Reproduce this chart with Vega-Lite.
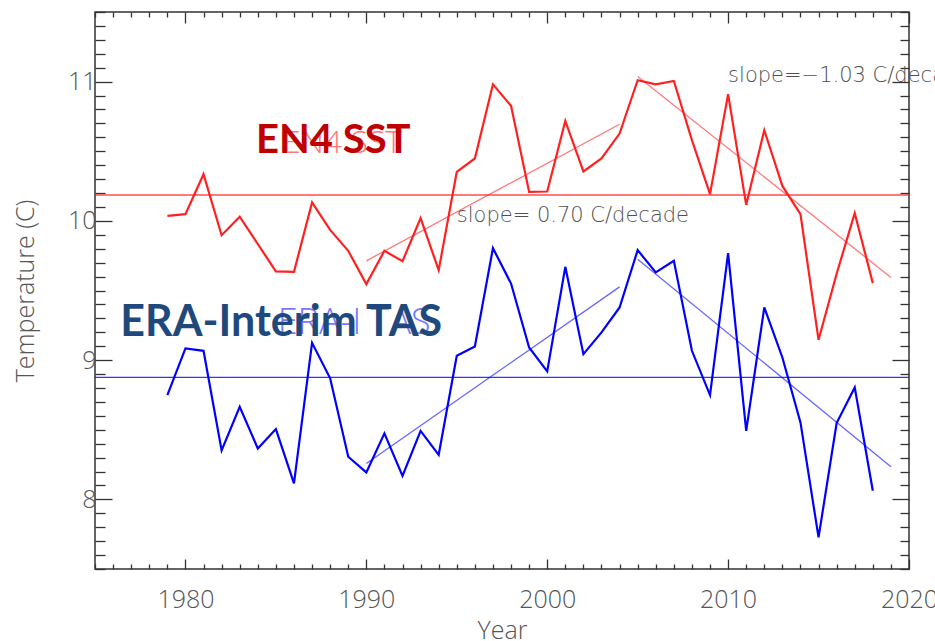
{
  "$schema": "https://vega.github.io/schema/vega-lite/v6.json",
  "width": 814,
  "height": 557,
  "autosize": {"type": "none"},
  "padding": {"left": 95, "top": 12, "right": 26, "bottom": 72},
  "background": "white",
  "config": {
    "view": {"stroke": "#333333", "strokeWidth": 1.5},
    "axis": {"domain": false, "grid": false, "labelOverlap": false, "labelFlush": false, "labelBound": false}
  },
  "datasets": {
    "series": [
      {"dataset": "EN4 SST", "year": 1979, "value": 10.036},
      {"dataset": "EN4 SST", "year": 1980, "value": 10.048},
      {"dataset": "EN4 SST", "year": 1981, "value": 10.335},
      {"dataset": "EN4 SST", "year": 1982, "value": 9.897},
      {"dataset": "EN4 SST", "year": 1983, "value": 10.03},
      {"dataset": "EN4 SST", "year": 1984, "value": 9.834},
      {"dataset": "EN4 SST", "year": 1985, "value": 9.637},
      {"dataset": "EN4 SST", "year": 1986, "value": 9.634},
      {"dataset": "EN4 SST", "year": 1987, "value": 10.132},
      {"dataset": "EN4 SST", "year": 1988, "value": 9.935},
      {"dataset": "EN4 SST", "year": 1989, "value": 9.785},
      {"dataset": "EN4 SST", "year": 1990, "value": 9.546},
      {"dataset": "EN4 SST", "year": 1991, "value": 9.785},
      {"dataset": "EN4 SST", "year": 1992, "value": 9.71},
      {"dataset": "EN4 SST", "year": 1993, "value": 10.02},
      {"dataset": "EN4 SST", "year": 1994, "value": 9.646},
      {"dataset": "EN4 SST", "year": 1995, "value": 10.352},
      {"dataset": "EN4 SST", "year": 1996, "value": 10.448},
      {"dataset": "EN4 SST", "year": 1997, "value": 10.981},
      {"dataset": "EN4 SST", "year": 1998, "value": 10.826},
      {"dataset": "EN4 SST", "year": 1999, "value": 10.208},
      {"dataset": "EN4 SST", "year": 2000, "value": 10.211},
      {"dataset": "EN4 SST", "year": 2001, "value": 10.718},
      {"dataset": "EN4 SST", "year": 2002, "value": 10.355},
      {"dataset": "EN4 SST", "year": 2003, "value": 10.448},
      {"dataset": "EN4 SST", "year": 2004, "value": 10.627},
      {"dataset": "EN4 SST", "year": 2005, "value": 11.01},
      {"dataset": "EN4 SST", "year": 2006, "value": 10.981},
      {"dataset": "EN4 SST", "year": 2007, "value": 11.005},
      {"dataset": "EN4 SST", "year": 2008, "value": 10.58},
      {"dataset": "EN4 SST", "year": 2009, "value": 10.192},
      {"dataset": "EN4 SST", "year": 2010, "value": 10.91},
      {"dataset": "EN4 SST", "year": 2011, "value": 10.115},
      {"dataset": "EN4 SST", "year": 2012, "value": 10.651},
      {"dataset": "EN4 SST", "year": 2013, "value": 10.251},
      {"dataset": "EN4 SST", "year": 2014, "value": 10.048},
      {"dataset": "EN4 SST", "year": 2015, "value": 9.146},
      {"dataset": "EN4 SST", "year": 2016, "value": 9.62},
      {"dataset": "EN4 SST", "year": 2017, "value": 10.055},
      {"dataset": "EN4 SST", "year": 2018, "value": 9.553},
      {"dataset": "ERA-Interim TAS", "year": 1979, "value": 8.749},
      {"dataset": "ERA-Interim TAS", "year": 1980, "value": 9.084},
      {"dataset": "ERA-Interim TAS", "year": 1981, "value": 9.067},
      {"dataset": "ERA-Interim TAS", "year": 1982, "value": 8.352},
      {"dataset": "ERA-Interim TAS", "year": 1983, "value": 8.665},
      {"dataset": "ERA-Interim TAS", "year": 1984, "value": 8.366},
      {"dataset": "ERA-Interim TAS", "year": 1985, "value": 8.505},
      {"dataset": "ERA-Interim TAS", "year": 1986, "value": 8.115},
      {"dataset": "ERA-Interim TAS", "year": 1987, "value": 9.124},
      {"dataset": "ERA-Interim TAS", "year": 1988, "value": 8.869},
      {"dataset": "ERA-Interim TAS", "year": 1989, "value": 8.306},
      {"dataset": "ERA-Interim TAS", "year": 1990, "value": 8.194},
      {"dataset": "ERA-Interim TAS", "year": 1991, "value": 8.474},
      {"dataset": "ERA-Interim TAS", "year": 1992, "value": 8.169},
      {"dataset": "ERA-Interim TAS", "year": 1993, "value": 8.492},
      {"dataset": "ERA-Interim TAS", "year": 1994, "value": 8.32},
      {"dataset": "ERA-Interim TAS", "year": 1995, "value": 9.031},
      {"dataset": "ERA-Interim TAS", "year": 1996, "value": 9.098},
      {"dataset": "ERA-Interim TAS", "year": 1997, "value": 9.804},
      {"dataset": "ERA-Interim TAS", "year": 1998, "value": 9.55},
      {"dataset": "ERA-Interim TAS", "year": 1999, "value": 9.091},
      {"dataset": "ERA-Interim TAS", "year": 2000, "value": 8.919},
      {"dataset": "ERA-Interim TAS", "year": 2001, "value": 9.67},
      {"dataset": "ERA-Interim TAS", "year": 2002, "value": 9.043},
      {"dataset": "ERA-Interim TAS", "year": 2003, "value": 9.199},
      {"dataset": "ERA-Interim TAS", "year": 2004, "value": 9.378},
      {"dataset": "ERA-Interim TAS", "year": 2005, "value": 9.79},
      {"dataset": "ERA-Interim TAS", "year": 2006, "value": 9.63},
      {"dataset": "ERA-Interim TAS", "year": 2007, "value": 9.713},
      {"dataset": "ERA-Interim TAS", "year": 2008, "value": 9.067},
      {"dataset": "ERA-Interim TAS", "year": 2009, "value": 8.749},
      {"dataset": "ERA-Interim TAS", "year": 2010, "value": 9.768},
      {"dataset": "ERA-Interim TAS", "year": 2011, "value": 8.492},
      {"dataset": "ERA-Interim TAS", "year": 2012, "value": 9.378},
      {"dataset": "ERA-Interim TAS", "year": 2013, "value": 9.019},
      {"dataset": "ERA-Interim TAS", "year": 2014, "value": 8.553},
      {"dataset": "ERA-Interim TAS", "year": 2015, "value": 7.727},
      {"dataset": "ERA-Interim TAS", "year": 2016, "value": 8.548},
      {"dataset": "ERA-Interim TAS", "year": 2017, "value": 8.804},
      {"dataset": "ERA-Interim TAS", "year": 2018, "value": 8.062}
    ],
    "trends": [
      {"dataset": "EN4 SST", "segment": "a", "year": 1990, "value": 9.713},
      {"dataset": "EN4 SST", "segment": "a", "year": 2004, "value": 10.694},
      {"dataset": "EN4 SST", "segment": "b", "year": 2005, "value": 11.037},
      {"dataset": "EN4 SST", "segment": "b", "year": 2019, "value": 9.594},
      {"dataset": "ERA-Interim TAS", "segment": "a", "year": 1990, "value": 8.258},
      {"dataset": "ERA-Interim TAS", "segment": "a", "year": 2004, "value": 9.526},
      {"dataset": "ERA-Interim TAS", "segment": "b", "year": 2005, "value": 9.725},
      {"dataset": "ERA-Interim TAS", "segment": "b", "year": 2019, "value": 8.234}
    ],
    "means": [
      {"dataset": "EN4 SST", "value": 10.186},
      {"dataset": "ERA-Interim TAS", "value": 8.876}
    ],
    "slopes": [
      {"year": 1995, "value": 9.99, "text": "slope= 0.70 C/decade"},
      {"year": 2010, "value": 11.0, "text": "slope=\u22121.03 C/decade"}
    ],
    "faint_red": [{"year": 1985.4, "value": 10.49, "text": "EN4 SST"}],
    "faint_blue": [{"year": 1985.1, "value": 9.187, "text": "ERA-I TAS"}],
    "label_red": [{"year": 1983.9, "value": 10.484, "text": "EN4 SST"}],
    "label_blue": [{"year": 1976.4, "value": 9.174, "text": "ERA-Interim TAS"}]
  },
  "resolve": {"axis": {"x": "independent", "y": "independent"}},
  "layer": [
    {
      "data": {"name": "means"},
      "mark": {"type": "rule", "strokeWidth": 1.4},
      "encoding": {
        "y": {"field": "value", "type": "quantitative", "scale": {"domain": [7.5, 11.5], "nice": false, "zero": false}, "axis": null},
        "color": {"field": "dataset", "type": "nominal", "scale": {"domain": ["EN4 SST", "ERA-Interim TAS"], "range": ["#ff2020", "#0000ff"]}, "legend": null},
        "opacity": {"value": 0.8}
      }
    },
    {
      "data": {"name": "series"},
      "mark": {"type": "line", "strokeWidth": 2.2},
      "encoding": {
        "x": {
          "field": "year", "type": "quantitative",
          "scale": {"domain": [1975, 2020], "nice": false, "zero": false},
          "axis": {
            "orient": "bottom",
            "values": [1975,1976,1977,1978,1979,1980,1981,1982,1983,1984,1985,1986,1987,1988,1989,1990,1991,1992,1993,1994,1995,1996,1997,1998,1999,2000,2001,2002,2003,2004,2005,2006,2007,2008,2009,2010,2011,2012,2013,2014,2015,2016,2017,2018,2019,2020],
            "tickSize": {"condition": {"test": "datum.value % 10 === 0", "value": -10}, "value": -5},
            "tickColor": "#333333", "tickWidth": 1.3,
            "labelExpr": "datum.value % 10 === 0 ? '' + datum.value : ''",
            "labelFont": "Open Sans", "labelFontWeight": 300, "labelFontSize": 25, "labelColor": "#555555",
            "labelPadding": 28,
            "title": "Year", "titleFont": "Open Sans", "titleFontWeight": 300, "titleFontSize": 25, "titleColor": "#555555",
            "titleY": 49
          }
        },
        "y": {
          "field": "value", "type": "quantitative",
          "scale": {"domain": [7.5, 11.5], "nice": false, "zero": false},
          "axis": {
            "orient": "left",
            "values": [7.5,7.6,7.7,7.8,7.9,8,8.1,8.2,8.3,8.4,8.5,8.6,8.7,8.8,8.9,9,9.1,9.2,9.3,9.4,9.5,9.6,9.7,9.8,9.9,10,10.1,10.2,10.3,10.4,10.5,10.6,10.7,10.8,10.9,11,11.1,11.2,11.3,11.4,11.5],
            "tickSize": {"condition": {"test": "abs(datum.value - round(datum.value)) < 0.01", "value": -17}, "value": -10},
            "tickColor": "#333333", "tickWidth": 1.3,
            "labelExpr": "abs(datum.value - round(datum.value)) < 0.01 ? '' + round(datum.value) : ''",
            "labelFont": "Open Sans", "labelFontWeight": 300, "labelFontSize": 25, "labelColor": "#555555",
            "labelPadding": 16,
            "title": "Temperature (C)", "titleFont": "Open Sans", "titleFontWeight": 300, "titleFontSize": 25, "titleColor": "#555555",
            "titleX": -57
          }
        },
        "color": {"field": "dataset", "type": "nominal", "scale": {"domain": ["EN4 SST", "ERA-Interim TAS"], "range": ["#ff2020", "#0000ff"]}, "legend": null}
      }
    },
    {
      "data": {"name": "trends"},
      "mark": {"type": "line", "strokeWidth": 1.3, "opacity": 0.6},
      "encoding": {
        "x": {
          "field": "year", "type": "quantitative",
          "scale": {"domain": [1975, 2020], "nice": false, "zero": false},
          "axis": {
            "orient": "top", "title": null, "labels": false,
            "values": [1975,1976,1977,1978,1979,1980,1981,1982,1983,1984,1985,1986,1987,1988,1989,1990,1991,1992,1993,1994,1995,1996,1997,1998,1999,2000,2001,2002,2003,2004,2005,2006,2007,2008,2009,2010,2011,2012,2013,2014,2015,2016,2017,2018,2019,2020],
            "tickSize": {"condition": {"test": "datum.value % 10 === 0", "value": -11}, "value": -5},
            "tickColor": "#333333", "tickWidth": 1.3
          }
        },
        "y": {
          "field": "value", "type": "quantitative",
          "scale": {"domain": [7.5, 11.5], "nice": false, "zero": false},
          "axis": {
            "orient": "right", "title": null, "labels": false,
            "values": [7.5,7.6,7.7,7.8,7.9,8,8.1,8.2,8.3,8.4,8.5,8.6,8.7,8.8,8.9,9,9.1,9.2,9.3,9.4,9.5,9.6,9.7,9.8,9.9,10,10.1,10.2,10.3,10.4,10.5,10.6,10.7,10.8,10.9,11,11.1,11.2,11.3,11.4,11.5],
            "tickSize": {"condition": {"test": "abs(datum.value - round(datum.value)) < 0.01", "value": -17}, "value": -9},
            "tickColor": "#333333", "tickWidth": 1.3
          }
        },
        "color": {"field": "dataset", "type": "nominal", "scale": {"domain": ["EN4 SST", "ERA-Interim TAS"], "range": ["#ff2020", "#0000ff"]}, "legend": null},
        "detail": {"field": "segment", "type": "nominal"}
      }
    },
    {
      "data": {"name": "slopes"},
      "mark": {"type": "text", "align": "left", "baseline": "alphabetic", "font": "DejaVu Sans", "fontWeight": 200, "fontSize": 21, "color": "#505050"},
      "encoding": {
        "x": {"field": "year", "type": "quantitative", "axis": null},
        "y": {"field": "value", "type": "quantitative", "axis": null},
        "text": {"field": "text"}
      }
    },
    {
      "data": {"name": "faint_red"},
      "mark": {"type": "text", "align": "left", "baseline": "alphabetic", "font": "Open Sans", "fontWeight": 300, "fontSize": 32, "color": "#ff4040", "opacity": 0.7},
      "encoding": {
        "x": {"field": "year", "type": "quantitative", "axis": null},
        "y": {"field": "value", "type": "quantitative", "axis": null},
        "text": {"field": "text"}
      }
    },
    {
      "data": {"name": "faint_blue"},
      "mark": {"type": "text", "align": "left", "baseline": "alphabetic", "font": "Open Sans", "fontWeight": 300, "fontSize": 36, "color": "#4040ff", "opacity": 0.7},
      "encoding": {
        "x": {"field": "year", "type": "quantitative", "axis": null},
        "y": {"field": "value", "type": "quantitative", "axis": null},
        "text": {"field": "text"}
      }
    },
    {
      "data": {"name": "label_red"},
      "mark": {"type": "text", "align": "left", "baseline": "alphabetic", "font": "Lato", "fontWeight": "bold", "fontSize": 40, "color": "#c00000"},
      "encoding": {
        "x": {"field": "year", "type": "quantitative", "axis": null},
        "y": {"field": "value", "type": "quantitative", "axis": null},
        "text": {"field": "text"}
      }
    },
    {
      "data": {"name": "label_blue"},
      "mark": {"type": "text", "align": "left", "baseline": "alphabetic", "font": "Lato", "fontWeight": "bold", "fontSize": 43, "color": "#1f497d"},
      "encoding": {
        "x": {"field": "year", "type": "quantitative", "axis": null},
        "y": {"field": "value", "type": "quantitative", "axis": null},
        "text": {"field": "text"}
      }
    }
  ]
}
